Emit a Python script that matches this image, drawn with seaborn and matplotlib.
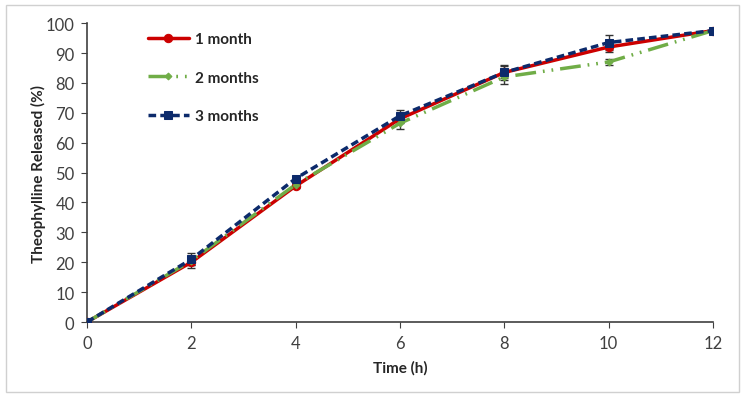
import matplotlib.pyplot as plt
import matplotlib.patches as mpatches
import seaborn as sns
import pandas as pd

time_h = [0, 2, 4, 6, 8, 10, 12]
month1 = [0, 20.0, 45.5, 68.0, 83.5, 92.0, 97.5]
month2 = [0, 20.5, 46.0, 66.5, 82.0, 87.0, 97.5]
month3 = [0, 21.0, 48.0, 69.0, 83.5, 93.5, 97.5]
err1 = [0, 2.0, 0.8, 1.5, 2.0, 1.5, 0.5]
err2 = [0, 1.5, 0.8, 1.8, 2.5, 1.0, 0.5]
err3 = [0, 2.0, 1.0, 2.0, 2.5, 2.5, 0.5]
labels = ['1 month', '2 months', '3 months']

df = pd.DataFrame({
    'Time': time_h * 3,
    'Release': month1 + month2 + month3,
    'Err': err1 + err2 + err3,
    'Group': sum([[lab] * len(time_h) for lab in labels], []),
})

sns.set_style("white")
plt.rcParams['font.family'] = ['Lato', 'DejaVu Sans']

fig = plt.figure(figsize=(7.45, 4.02), dpi=100)
ax = fig.add_axes([0.1168, 0.1965, 0.8402, 0.7435])

styles = {
    '1 month': dict(color='#CC0000', ls='-', marker='o', ms=6, lw=2.5),
    '2 months': dict(color='#70AD47', ls=(0, (6, 2, 0.5, 2, 0.5, 2)), marker='D', ms=3.5, lw=2.5),
    '3 months': dict(color='#0C2A6B', ls=(0, (2.2, 1.2)), marker='s', ms=6, lw=2.5),
}

# error bars first, behind the lines
for lab in labels:
    sub = df[df['Group'] == lab]
    ax.errorbar(sub['Time'], sub['Release'], yerr=sub['Err'], fmt='none',
                ecolor='#333333', elinewidth=1, capsize=3, zorder=2)

for lab in labels:
    sub = df[df['Group'] == lab]
    st = styles[lab]
    sns.lineplot(data=sub, x='Time', y='Release', ax=ax, color=st['color'],
                 linestyle=st['ls'], marker=st['marker'], markersize=st['ms'],
                 markeredgecolor=st['color'], linewidth=st['lw'], label=lab, zorder=3)

ax.set_xlim(0, 12)
ax.set_ylim(0, 100)
ax.set_xticks(range(0, 13, 2))
ax.set_yticks(range(0, 101, 10))
ax.tick_params(axis='both', labelsize=12, length=4, direction='out', colors='#404040',
               bottom=True, left=True, pad=5)
for s in ['top', 'right']:
    ax.spines[s].set_visible(False)
for s in ['left', 'bottom']:
    ax.spines[s].set_color('#404040')
    ax.spines[s].set_linewidth(1.2)
ax.set_xlabel('Time (h)', fontsize=11, fontweight='bold', labelpad=7)
ax.set_ylabel('Theophylline Released (%)', fontsize=11, fontweight='bold', labelpad=0)

leg = ax.legend(loc='upper left', bbox_to_anchor=(0.075, 1.015), frameon=False,
                labelspacing=1.6, handlelength=2.7, handletextpad=0.4,
                prop={'weight': 'bold', 'size': 11})

fig.patches.append(mpatches.Rectangle((0.008, 0.022), 0.984, 0.963, transform=fig.transFigure,
                                      fill=False, edgecolor='#d0d0d0', linewidth=1))

fig.savefig('out.png', dpi=100)
plt.close()
